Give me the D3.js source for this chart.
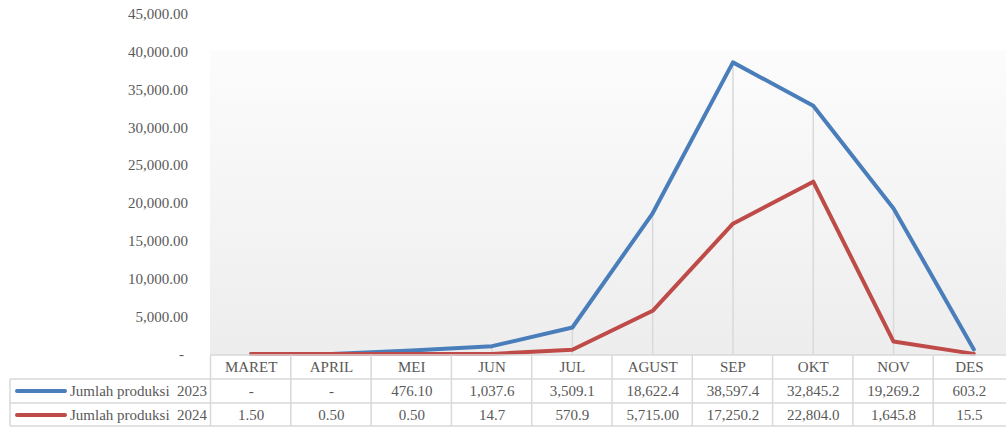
<!DOCTYPE html>
<html>
<head>
<meta charset="utf-8">
<script src="https://cdn.jsdelivr.net/npm/d3@7"></script>
<style>
  html, body { margin: 0; padding: 0; background: #ffffff; }
  svg { display: block; }
  text { font-family: "Liberation Serif", "Times New Roman", serif; fill: #595959; }
</style>
</head>
<body>
<svg id="chart" width="1006" height="427"></svg>
<script>
// ---- data ----
const months = ["MARET", "APRIL", "MEI", "JUN", "JUL", "AGUST", "SEP", "OKT", "NOV", "DES"];
const seriesNames = ["Jumlah produksi  2023", "Jumlah produksi  2024"];
const prod2023 = [0, 0, 476.10, 1037.6, 3509.1, 18622.4, 38597.4, 32845.2, 19269.2, 603.2];
const prod2024 = [1.50, 0.50, 0.50, 14.7, 570.9, 5715.00, 17250.2, 22804.0, 1645.8, 15.5];
const labels2023 = ["-", "-", "476.10", "1,037.6", "3,509.1", "18,622.4", "38,597.4", "32,845.2", "19,269.2", "603.2"];
const labels2024 = ["1.50", "0.50", "0.50", "14.7", "570.9", "5,715.00", "17,250.2", "22,804.0", "1,645.8", "15.5"];
const yTicks = [0, 5000, 10000, 15000, 20000, 25000, 30000, 35000, 40000, 45000];
const colors = ["#4a7ebb", "#be4b48"];

// ---- layout ----
const W = 1006, H = 427;
const plotLeft = 211, plotRight = 1014, plotTop = 50;
const axisY = 355;
const rowH = 24;
const legendLeft = 10;
const gridColor = "#d9d9d9";

const svg = d3.select("#chart");

const x = d3.scaleBand().domain(months).range([plotLeft, plotRight]).padding(0);
const y = d3.scaleLinear().domain([0, 45000]).range([axisY - 1, 14]);
const cx = m => x(m) + x.bandwidth() / 2;

// plot area gradient
const defs = svg.append("defs");
const grad = defs.append("linearGradient").attr("id", "bg").attr("x1", 0).attr("y1", 0).attr("x2", 0).attr("y2", 1);
grad.append("stop").attr("offset", "0%").attr("stop-color", "#fcfcfc");
grad.append("stop").attr("offset", "100%").attr("stop-color", "#ededed");
svg.append("rect").attr("x", plotLeft - 1).attr("y", plotTop)
  .attr("width", W - plotLeft + 1).attr("height", axisY - plotTop).attr("fill", "url(#bg)");

// y axis labels
const fmt = d3.format(",.2f");
const yAxis = d3.axisLeft(y).tickValues(yTicks).tickSize(0).tickPadding(0)
  .tickFormat(d => d === 0 ? "-" : fmt(d));
const yg = svg.append("g").attr("transform", "translate(188,0)").call(yAxis);
yg.select(".domain").remove();
yg.selectAll("text").style("font-family", "Liberation Serif, serif").style("font-size", "15px")
  .attr("fill", "#595959").attr("dy", "0.32em");
yg.selectAll(".tick").filter(d => d === 0).select("text").attr("x", -4);

// drop lines
svg.append("g").selectAll("line").data(months.map((m, i) => ({ m, v: Math.max(prod2023[i], prod2024[i]) })))
  .join("line")
  .attr("x1", d => cx(d.m)).attr("x2", d => cx(d.m))
  .attr("y1", d => y(d.v)).attr("y2", axisY)
  .attr("stroke", gridColor).attr("stroke-width", 1.5);

// lines
const line = d3.line().x((d, i) => cx(months[i])).y(d => y(d));
[prod2023, prod2024].forEach((s, k) => {
  svg.append("path").datum(s).attr("d", line)
    .attr("fill", "none").attr("stroke", colors[k]).attr("stroke-width", 4)
    .attr("stroke-linejoin", "round").attr("stroke-linecap", "round");
});

// ---- data table ----
const tbl = svg.append("g");
const rowsY = [axisY, axisY + rowH, axisY + 2 * rowH, axisY + 3 * rowH - 1];
// horizontal borders
tbl.append("line").attr("x1", plotLeft - 1).attr("x2", W).attr("y1", rowsY[0]).attr("y2", rowsY[0])
  .attr("stroke", gridColor).attr("stroke-width", 1.5);
[rowsY[1], rowsY[2], rowsY[3]].forEach(yy => {
  tbl.append("line").attr("x1", legendLeft).attr("x2", W).attr("y1", yy).attr("y2", yy)
    .attr("stroke", gridColor).attr("stroke-width", 1.5);
});
// vertical borders
months.forEach(m => {
  tbl.append("line").attr("x1", x(m) - 0.5).attr("x2", x(m) - 0.5).attr("y1", rowsY[0]).attr("y2", rowsY[3])
    .attr("stroke", gridColor).attr("stroke-width", 1.5);
});
tbl.append("line").attr("x1", legendLeft).attr("x2", legendLeft).attr("y1", rowsY[1]).attr("y2", rowsY[3])
  .attr("stroke", gridColor).attr("stroke-width", 1.5);

const textX = m => (x(m) + Math.min(x(m) + x.bandwidth(), W - 1)) / 2;
// header
tbl.append("g").selectAll("text").data(months).join("text")
  .attr("x", d => textX(d)).attr("y", rowsY[0] + rowH / 2).attr("dy", "0.35em")
  .attr("text-anchor", "middle").style("font-size", "15px").text(d => d);
// value rows
[labels2023, labels2024].forEach((labs, k) => {
  tbl.append("g").selectAll("text").data(labs).join("text")
    .attr("x", (d, i) => textX(months[i])).attr("y", rowsY[k + 1] + rowH / 2).attr("dy", "0.35em")
    .attr("text-anchor", "middle").style("font-size", "15px").text(d => d);
  // legend key
  tbl.append("line").attr("x1", 17).attr("x2", 65)
    .attr("y1", rowsY[k + 1] + rowH / 2).attr("y2", rowsY[k + 1] + rowH / 2)
    .attr("stroke", colors[k]).attr("stroke-width", 4).attr("stroke-linecap", "round");
  tbl.append("text").attr("x", 70).attr("y", rowsY[k + 1] + rowH / 2).attr("dy", "0.35em")
    .style("font-size", "15px").style("white-space", "pre").attr("xml:space", "preserve").text(seriesNames[k]);
});
</script>
</body>
</html>
